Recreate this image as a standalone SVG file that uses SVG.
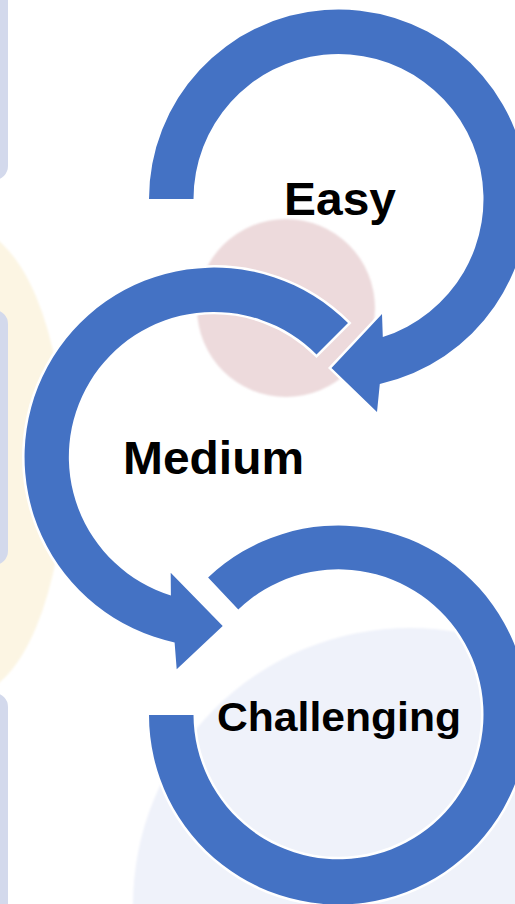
<svg xmlns="http://www.w3.org/2000/svg" width="515" height="904" viewBox="0 0 515 904">
  <defs>
    <style>
      .tab { fill: #D3D9EC; }
      .arrow { fill: #4472C4; stroke: #FFFFFF; stroke-width: 5; paint-order: stroke; stroke-linejoin: miter; }
      .label { font-family: "Liberation Sans", Arial, sans-serif; font-weight: bold; fill: #000000; text-anchor: middle; }
    </style>
    <filter id="soft" x="-10%" y="-10%" width="120%" height="120%">
      <feGaussianBlur stdDeviation="1.2"/>
    </filter>
  </defs>
  <rect width="515" height="904" fill="#FFFFFF"/>
  <g id="background">
    <ellipse cx="-35" cy="462" rx="100" ry="235" fill="#FCF5E3" filter="url(#soft)"/>
    <rect class="tab" x="-30" y="-30" width="38" height="210" rx="14"/>
    <rect class="tab" x="-30" y="310" width="38" height="255" rx="14"/>
    <rect class="tab" x="-30" y="693" width="38" height="240" rx="14"/>
    <circle cx="286" cy="308" r="89" fill="#EDDADC" filter="url(#soft)"/>
    <circle cx="410" cy="905" r="277" fill="#EFF2FA" filter="url(#soft)"/>
  </g>
  <g id="connectors">
    <path id="arrow-easy" class="arrow" d="M149,199 A189.5,189.5 0 1 1 379.8,383.9 L377,412 L331.5,368 L382,314 L382.8,337.1 A145,145 0 1 0 193.5,199 Z"/>
    <path id="arrow-medium" class="arrow" d="M348,323 A189.5,189.5 0 1 0 174.6,642.4 L176.7,669.3 L222.7,626 L170.7,572.7 L170.9,595.4 A145,145 0 1 1 316.5,354.5 Z"/>
    <path id="arrow-challenging" class="arrow" d="M149,715 A189.5,189.5 0 1 0 208.1,577.5 L238.3,609.5 A145,145 0 1 1 193.5,715 Z"/>
  </g>
  <g id="node-easy">
    <text class="label" x="340" y="215" font-size="46" textLength="112" lengthAdjust="spacingAndGlyphs">Easy</text>
  </g>
  <g id="node-medium">
    <text class="label" x="213.5" y="474" font-size="47" textLength="181" lengthAdjust="spacingAndGlyphs">Medium</text>
  </g>
  <g id="node-challenging">
    <text class="label" x="339" y="731" font-size="40" textLength="244" lengthAdjust="spacingAndGlyphs">Challenging</text>
  </g>
</svg>
